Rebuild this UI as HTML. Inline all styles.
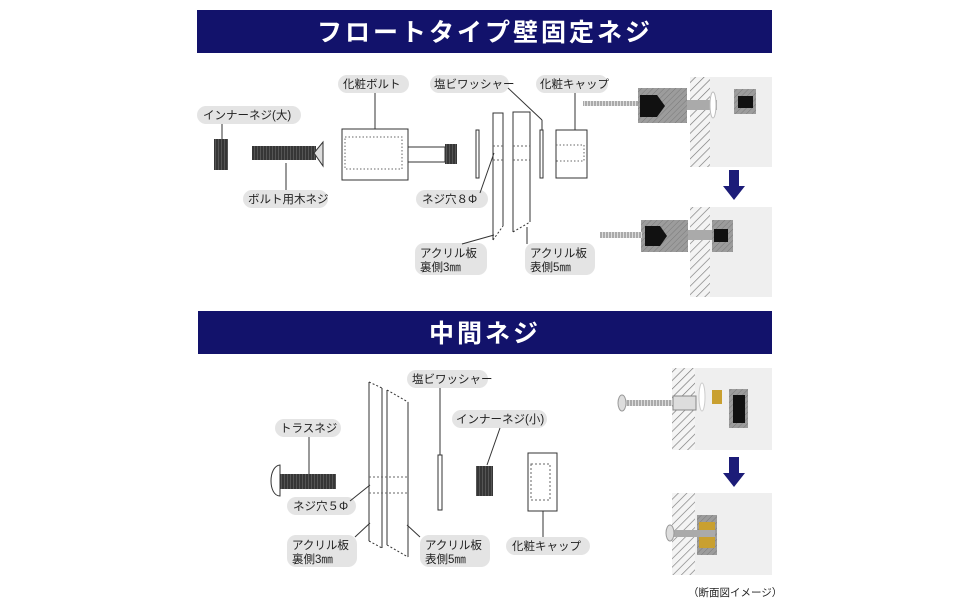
<!DOCTYPE html>
<html><head><meta charset="utf-8"><style>
html,body{margin:0;padding:0;background:#fff;}
svg{display:block;}
text{font-family:"Liberation Sans","Noto Sans CJK JP",sans-serif;}
.lb{font-size:11.5px;fill:#222;}
</style></head><body>
<svg width="970" height="600" viewBox="0 0 970 600" xmlns="http://www.w3.org/2000/svg">
<defs>
<pattern id="wh" width="6" height="6" patternUnits="userSpaceOnUse" patternTransform="rotate(45)">
<rect width="6" height="6" fill="#f4f4f4"/><line x1="0" y1="0" x2="0" y2="6" stroke="#777" stroke-width="1.3"/></pattern>
<pattern id="mh" width="4" height="4" patternUnits="userSpaceOnUse" patternTransform="rotate(45)">
<rect width="4" height="4" fill="#9c9c9c"/><line x1="0" y1="0" x2="0" y2="4" stroke="#7a7a7a" stroke-width="1"/></pattern>
<pattern id="th" width="3" height="4" patternUnits="userSpaceOnUse">
<rect width="3" height="4" fill="#555"/><line x1="1" y1="0" x2="1" y2="4" stroke="#222" stroke-width="1.2"/></pattern>
<pattern id="sc" width="3" height="4" patternUnits="userSpaceOnUse">
<rect width="3" height="4" fill="#ddd"/><line x1="1" y1="0" x2="1" y2="4" stroke="#777" stroke-width="1"/></pattern>
</defs>
<rect width="970" height="600" fill="#fff"/>
<!-- banners -->
<rect x="197" y="10" width="575" height="43" fill="#12126b"/>
<text x="485" y="41" text-anchor="middle" font-size="25" font-weight="bold" fill="#fff" letter-spacing="3">フロートタイプ壁固定ネジ</text>
<rect x="198" y="311" width="574" height="43" fill="#12126b"/>
<text x="485" y="342" text-anchor="middle" font-size="25" font-weight="bold" fill="#fff" letter-spacing="3">中間ネジ</text>

<g fill="#e4e4e4">
<rect x="197" y="106" width="104" height="18" rx="9"/>
<rect x="243" y="190" width="85" height="18" rx="9"/>
<rect x="338" y="75" width="71" height="18" rx="9"/>
<rect x="430" y="75" width="79" height="18" rx="9"/>
<rect x="536" y="75" width="72" height="18" rx="9"/>
<rect x="416" y="190" width="72" height="18" rx="9"/>
<rect x="415" y="243" width="72" height="32" rx="9"/>
<rect x="525" y="243" width="70" height="32" rx="9"/>
<rect x="275" y="419" width="66" height="18" rx="9"/>
<rect x="407" y="370" width="81" height="18" rx="9"/>
<rect x="452" y="410" width="95" height="18" rx="9"/>
<rect x="287" y="497" width="69" height="18" rx="9"/>
<rect x="287" y="535" width="70" height="32" rx="9"/>
<rect x="420" y="535" width="70" height="32" rx="9"/>
<rect x="506" y="537" width="84" height="18" rx="9"/>
</g>
<g class="lb">
<text x="203" y="119">インナーネジ(大)</text>
<text x="248" y="203">ボルト用木ネジ</text>
<text x="343" y="88">化粧ボルト</text>
<text x="434" y="88">塩ビワッシャー</text>
<text x="540" y="88">化粧キャップ</text>
<text x="422" y="203">ネジ穴８Φ</text>
<text x="420" y="257">アクリル板</text><text x="420" y="271">裏側3㎜</text>
<text x="530" y="257">アクリル板</text><text x="530" y="271">表側5㎜</text>
<text x="280" y="432">トラスネジ</text>
<text x="412" y="383">塩ビワッシャー</text>
<text x="456" y="423">インナーネジ(小)</text>
<text x="293" y="510">ネジ穴５Φ</text>
<text x="292" y="549">アクリル板</text><text x="292" y="563">裏側3㎜</text>
<text x="425" y="549">アクリル板</text><text x="425" y="563">表側5㎜</text>
<text x="512" y="550">化粧キャップ</text>
</g>

<g stroke="#333" stroke-width="1" fill="none">
<!-- leaders top -->
<line x1="222" y1="124" x2="222" y2="139"/>
<line x1="286" y1="163" x2="286" y2="190"/>
<line x1="375" y1="93" x2="375" y2="129"/>
<line x1="508" y1="88" x2="542" y2="120"/><line x1="542" y1="120" x2="542" y2="130"/>
<line x1="575" y1="93" x2="575" y2="130"/>
<line x1="480" y1="193" x2="494" y2="153"/>
<line x1="462" y1="244" x2="494" y2="235"/>
<line x1="527" y1="244" x2="527" y2="227"/>
<!-- bolt -->
<rect x="342" y="129" width="66" height="51" fill="#fff"/>
<rect x="345" y="137" width="57" height="32" stroke-dasharray="1.5,2" stroke="#666"/>
<rect x="408" y="147" width="37" height="15" fill="#fff"/>
<!-- washers -->
<rect x="476" y="130" width="3" height="48" fill="#fff"/>
<rect x="540" y="130" width="3" height="48" fill="#fff"/>
<!-- plates -->
<polyline points="493,240 493,113 503,113 503,226"/>
<line x1="493" y1="240" x2="503" y2="226" stroke-dasharray="2,2"/>
<polyline points="513,232 513,112 530,112 530,222"/>
<line x1="513" y1="232" x2="530" y2="222" stroke-dasharray="2,2"/>
<g stroke-dasharray="2,2" stroke="#666"><line x1="493" y1="146" x2="503" y2="146"/><line x1="493" y1="160" x2="503" y2="160"/><line x1="513" y1="146" x2="530" y2="146"/><line x1="513" y1="160" x2="530" y2="160"/></g>
<!-- cap -->
<rect x="556" y="130" width="31" height="48" fill="#fff"/>
<polyline points="556,145 584,145 584,161 556,161" stroke-dasharray="1.5,2" stroke="#666"/>
</g>
<rect x="214" y="139" width="14" height="31" fill="url(#th)"/>
<rect x="252" y="146" width="64" height="14" fill="url(#th)"/>
<polygon points="314,153 323,142 323,166" fill="#ddd" stroke="#333"/>
<rect x="445" y="144" width="12" height="20" fill="url(#th)"/>

<!-- right top photos -->
<rect x="690" y="77" width="82" height="90" fill="#efefef"/>
<rect x="690" y="77" width="20" height="90" fill="url(#wh)"/>
<rect x="638" y="88" width="49" height="35" fill="url(#mh)"/>
<polygon points="640,95 657,95 665,106 657,117 640,117" fill="#111"/>
<rect x="583" y="101" width="55" height="5" fill="url(#sc)"/>
<rect x="687" y="100" width="30" height="10" fill="#aaa"/>
<ellipse cx="713" cy="105" rx="3" ry="13" fill="#fff" stroke="#bbb"/>
<rect x="734" y="89" width="22" height="25" fill="url(#mh)"/>
<rect x="738" y="96" width="15" height="12" fill="#111"/>
<polygon points="729,170 739,170 739,186 745,186 734,200 723,186 729,186" fill="#1c1c78"/>
<rect x="690" y="207" width="82" height="90" fill="#efefef"/>
<rect x="690" y="207" width="20" height="90" fill="url(#wh)"/>
<rect x="641" y="220" width="47" height="32" fill="url(#mh)"/>
<polygon points="645,226 660,226 667,236 660,246 645,246" fill="#111"/>
<rect x="600" y="232" width="42" height="6" fill="url(#sc)"/>
<rect x="688" y="230" width="26" height="10" fill="#aaa"/>
<rect x="712" y="220" width="21" height="32" fill="url(#mh)"/>
<rect x="714" y="229" width="14" height="13" fill="#111"/>

<!-- bottom left -->
<g stroke="#333" stroke-width="1" fill="none">
<line x1="309" y1="437" x2="309" y2="474"/>
<line x1="440" y1="388" x2="440" y2="455"/>
<line x1="500" y1="428" x2="487" y2="465"/>
<line x1="543" y1="511" x2="543" y2="537"/>
<line x1="350" y1="501" x2="370" y2="485"/>
<line x1="355" y1="537" x2="370" y2="523"/>
<line x1="420" y1="537" x2="407" y2="525"/>
<line x1="369" y1="382" x2="369" y2="541"/><line x1="382" y1="388" x2="382" y2="548"/>
<line x1="369" y1="382" x2="382" y2="388" stroke-dasharray="2,2"/><line x1="369" y1="541" x2="382" y2="548" stroke-dasharray="2,2"/>
<line x1="387" y1="390" x2="387" y2="545"/><line x1="408" y1="402" x2="408" y2="557"/>
<line x1="387" y1="390" x2="408" y2="402" stroke-dasharray="2,2"/><line x1="387" y1="545" x2="408" y2="557" stroke-dasharray="2,2"/>
<g stroke-dasharray="2,2" stroke="#666"><line x1="369" y1="477" x2="408" y2="477"/><line x1="369" y1="493" x2="408" y2="493"/></g>
<rect x="438" y="455" width="4" height="55" fill="#fff"/>
<rect x="528" y="453" width="29" height="58" fill="#fff"/>
<rect x="531" y="464" width="19" height="36" stroke-dasharray="2,2" stroke="#666"/>
<path d="M280,465 C268,466 268,496 280,496 Z" fill="#fff"/>
</g>
<rect x="280" y="474" width="56" height="15" fill="url(#th)"/>
<rect x="476" y="466" width="17" height="30" fill="url(#th)"/>

<!-- bottom right photos -->
<rect x="672" y="368" width="100" height="82" fill="#efefef"/>
<rect x="672" y="368" width="23" height="82" fill="url(#wh)"/>
<rect x="622" y="400" width="50" height="6" fill="url(#sc)"/>
<ellipse cx="622" cy="403" rx="4" ry="8" fill="#ddd" stroke="#999"/>
<rect x="673" y="396" width="23" height="14" fill="#ddd" stroke="#888"/>
<ellipse cx="702" cy="397" rx="3" ry="14" fill="#fff" stroke="#ccc"/>
<rect x="712" y="390" width="10" height="14" fill="#c9a030"/>
<rect x="729" y="389" width="19" height="39" fill="url(#mh)"/>
<rect x="733" y="395" width="12" height="28" fill="#111"/>
<polygon points="729,457 739,457 739,473 745,473 734,487 723,473 729,473" fill="#1c1c78"/>
<rect x="672" y="493" width="100" height="82" fill="#efefef"/>
<rect x="672" y="493" width="23" height="82" fill="url(#wh)"/>
<rect x="697" y="515" width="20" height="40" fill="url(#mh)"/>
<rect x="699" y="522" width="16" height="26" fill="#c9a030"/>
<rect x="670" y="530" width="45" height="7" fill="#aaa"/>
<ellipse cx="670" cy="533" rx="4" ry="8" fill="#ddd" stroke="#999"/>
<text x="688" y="596" font-size="10.5" fill="#222">（断面図イメージ）</text>
</svg>
</body></html>
